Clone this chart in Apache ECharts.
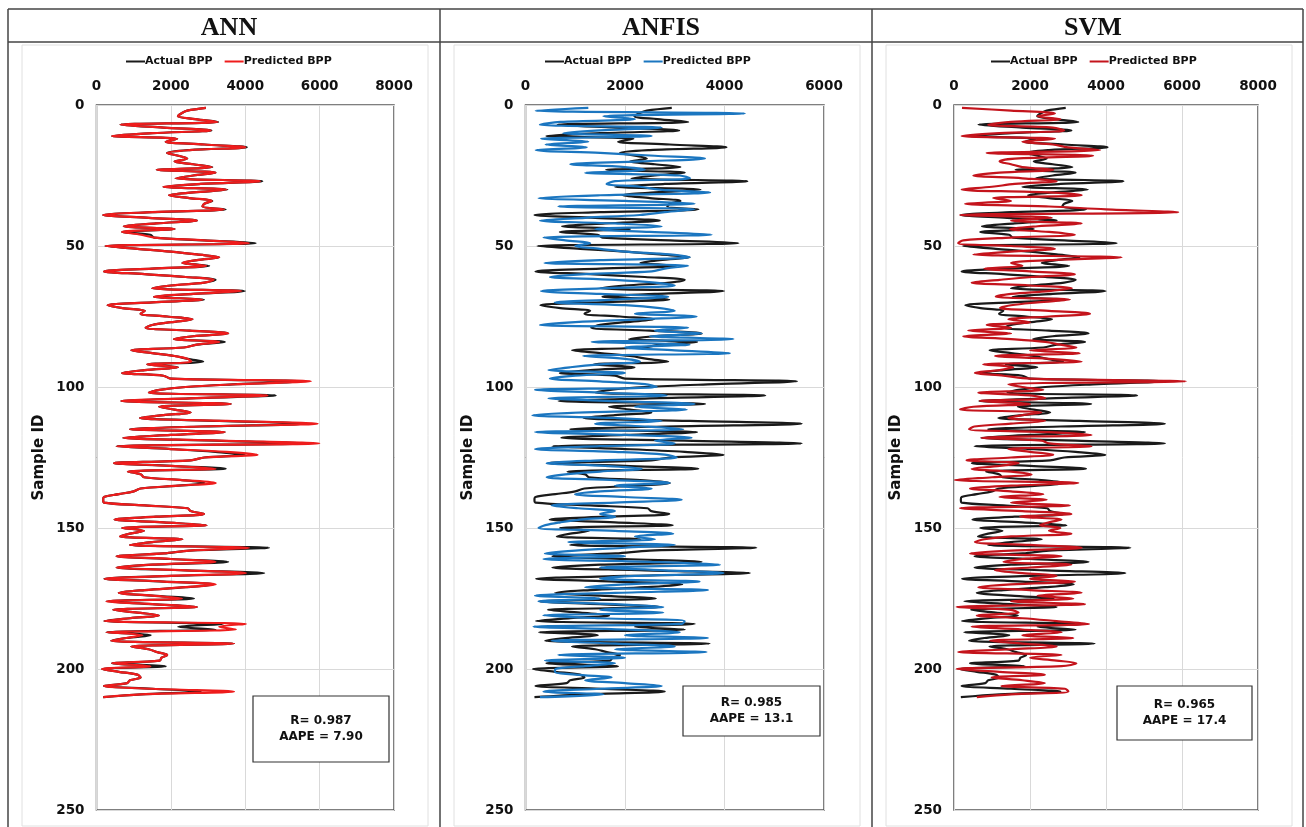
<!DOCTYPE html>
<html>
<head>
<meta charset="utf-8">
<script src="https://cdn.jsdelivr.net/npm/echarts@6/dist/echarts.min.js"></script>
<style>
  html, body { margin: 0; padding: 0; background: #fff; }
  #chart { width: 1306px; height: 827px; }
</style>
</head>
<body>
<div id="chart"></div>
<script>
// 实测 BPP（样本 1..210）
var actualBPP = [
  2940,2440,2280,2190,2650,3270,646,1800,3090,1500,
  420,2170,1860,2900,4040,2500,1900,2200,2440,2100,
  2600,3115,1620,3200,2600,2130,4460,2800,1800,3520,
  2600,1950,2500,3115,2900,2850,3475,1500,180,1400,
  2700,1600,735,2100,690,1450,1550,2900,4280,240,
  1100,2000,2700,3300,2700,2310,3030,1500,200,1300,
  2400,3200,2900,2000,1500,3990,2600,1545,2890,1500,
  300,700,1300,1185,1900,2580,2000,1500,1320,2500,
  3540,2600,2080,3450,2700,2350,935,1500,2100,2450,
  2870,1365,2190,1300,690,1800,2000,5460,3800,2400,
  1700,1410,4820,2500,665,3610,1680,2100,2530,1800,
  1170,3300,5550,2800,900,3450,2000,720,3200,5550,
  540,2000,3200,3980,2900,2530,470,2000,3475,845,
  1200,1275,2300,2900,2200,1185,1000,600,200,180,
  200,1300,2450,2530,2890,1600,485,1800,2960,690,
  1275,900,630,2310,1500,900,4640,2500,1810,540,
  2000,3540,1500,540,2400,4510,2000,215,1800,3150,
  2400,1300,600,1500,2620,270,1500,2700,450,1100,
  1680,900,215,3400,2200,3200,270,1455,800,395,
  3700,935,1400,1635,1900,1750,1700,420,1860,150,
  600,1095,1185,900,825,200,1500,2800,1200,180
];

// ANN 预测
var annBPP = [
  2940,2440,2280,2190,2650,3250,646,1800,3070,1500,
  420,2170,1860,2900,4000,2500,1900,2200,2440,2100,
  2600,3100,1620,3200,2600,2130,4400,2800,1800,3500,
  2600,1950,2500,3100,2900,2850,3430,1500,180,1400,
  2700,1600,735,2100,690,1200,1550,2900,4100,240,
  1100,2000,2700,3300,2700,2310,2950,1500,200,1300,
  2400,3150,2900,2000,1500,3900,2600,1545,2850,1500,
  300,700,1300,1185,1900,2580,2000,1500,1320,2500,
  3540,2600,2080,3300,2700,2350,935,1500,2100,2450,
  2550,1365,2190,1300,690,1800,2000,5765,3800,2400,
  1700,1410,4600,2500,665,3610,1680,2100,2530,1800,
  1170,3500,5945,2800,900,3450,2000,720,3300,5990,
  540,2000,3500,4330,2900,2530,470,2000,3200,845,
  1200,1275,2300,3205,2200,1185,1000,600,200,180,
  200,1300,2450,2530,2890,1600,485,1800,2960,690,
  1275,900,630,2310,1500,900,4100,2500,1810,540,
  2000,3200,1500,540,2400,4020,2000,215,1800,3205,
  2400,1300,600,1500,2300,270,1500,2700,450,1100,
  1680,900,215,4015,3300,3745,270,1230,800,395,
  3700,935,1400,1635,1900,1750,1700,420,1450,150,
  600,1095,1185,900,825,200,1500,3700,1200,180
];

// ANFIS 预测
var anfisBPP = [
  1263,205,4410,1565,2200,700,290,2737,1500,760,
  2536,310,1263,405,1230,205,1500,2600,3608,2300,
  900,2000,2400,1200,3100,3306,1800,1630,2300,2700,
  3710,1500,260,2000,3400,660,3400,2800,2300,1200,
  290,1800,2737,1400,2500,3740,360,800,1300,1000,
  1500,2000,2900,3300,1500,380,3270,2800,2536,1200,
  490,1800,2600,3000,1500,310,1500,2870,1800,590,
  2000,2700,3000,2200,3440,2300,1000,290,3270,2600,
  3540,2500,4180,1330,3300,2000,3000,4110,1160,2000,
  2300,1500,900,460,2000,1000,490,1500,2400,2637,
  190,1500,2837,460,1800,3400,2200,3240,1200,137,
  1800,2737,1400,2400,3170,190,2000,3340,2600,3000,
  1500,190,1800,2800,3040,1500,425,1600,2335,1500,
  800,425,1800,2900,1800,2536,1500,995,2000,3140,
  1800,525,1060,1800,1500,1800,1100,700,400,260,
  1800,2970,2200,2600,860,3000,2000,1000,390,2000,
  360,2500,3910,1500,2800,3980,2200,1500,3500,2000,
  1200,3670,1800,190,1500,260,1800,2770,1500,2770,
  360,1500,3200,3140,160,2000,3100,2000,3670,525,
  1800,3000,1800,3640,660,2000,390,1800,1200,600,
  590,1000,1730,1200,2000,2737,1500,360,1570,290
];

// SVM 预测
var svmBPP = [
  210,1500,2657,2200,2800,1500,900,2600,2900,1200,
  200,2657,1800,2600,3000,3840,860,3660,1600,1200,
  1500,1800,2613,1200,510,1800,2700,1600,1000,200,
  2500,3360,1030,1500,290,2500,4000,5900,160,2570,
  1500,3360,2200,1470,2500,3180,1500,245,110,1500,
  2657,1500,510,4410,2500,1500,1800,800,2000,3180,
  2040,1200,465,2000,3100,2500,1500,1100,3050,2200,
  1500,1210,2500,3580,2500,1430,2000,860,1500,375,
  1500,245,1500,2400,2800,3220,2000,3310,1080,2500,
  3360,770,1560,1200,550,1300,2000,6100,1430,1800,
  2350,640,2000,2400,680,2000,510,160,2300,1800,
  1430,2400,1500,535,395,2500,3620,725,2300,2500,
  3620,1430,2000,2613,1500,330,1700,1200,465,1500,
  2040,1000,25,3270,1500,420,1500,2350,1200,2440,
  1500,3050,160,1800,3090,1740,2830,2500,2260,2800,
  2500,3090,1500,800,550,2000,3360,1500,420,2830,
  1800,1300,3090,2000,1080,1800,2700,2000,3180,1500,
  640,2000,3360,2200,3140,1500,3450,70,1500,1700,
  600,1800,2700,3550,465,1800,2830,1800,3140,950,
  1800,2700,1500,110,2830,2000,2700,3220,2830,70,
  1200,2390,990,1800,2390,1250,2920,3010,1500,600
];

var panels = [
  { title: 'ANN',   pred: annBPP,   xmax: 8000, color: '#ee1c1c', r: 'R= 0.987', aape: 'AAPE = 7.90',
    left: 96.5, width: 297.5, cx: 224, legLeft: 121, box: [253, 696, 136, 66] },
  { title: 'ANFIS', pred: anfisBPP, xmax: 6000, color: '#1b76c0', r: 'R= 0.985', aape: 'AAPE = 13.1',
    left: 525.5, width: 298.5, cx: 656, legLeft: 540, box: [683, 686, 137, 50] },
  { title: 'SVM',   pred: svmBPP,   xmax: 8000, color: '#c4141c', r: 'R= 0.965', aape: 'AAPE = 17.4',
    left: 954, width: 304, cx: 1088, legLeft: 986, box: [1117, 686, 135, 54] }
];

function toPairs(arr) {
  var out = [];
  for (var i = 0; i < arr.length; i++) out.push([arr[i], i + 1]);
  return out;
}

var FONT = 'DejaVu Sans';
var labelFont = { fontFamily: FONT, fontWeight: 'bold', fontSize: 13.5, color: '#111',
  formatter: function (v) { return String(v); } };

var option = {
  backgroundColor: '#fff',
  animation: false,
  title: [], legend: [], grid: [], xAxis: [], yAxis: [], series: [],
  graphic: []
};

panels.forEach(function (p, k) {
  option.title.push({
    text: p.title, left: p.cx, top: 10, textAlign: 'center',
    textStyle: { fontFamily: 'Liberation Serif', fontWeight: 'bold', fontSize: 26, color: '#111' }
  });
  option.legend.push({
    data: ['Actual BPP|' + k, 'Predicted BPP|' + k],
    left: p.legLeft, top: 51,
    icon: 'rect', itemWidth: 19, itemHeight: 2, itemGap: 12,
    formatter: function (n) { return n.split('|')[0]; },
    textStyle: { fontFamily: FONT, fontWeight: 'bold', fontSize: 11, color: '#111', padding: [0, 0, 0, -5] },
    selectedMode: false
  });
  option.grid.push({
    left: p.left, width: p.width, top: 105, height: 705,
    show: true, borderColor: '#555', borderWidth: 1.5, backgroundColor: '#fff'
  });
  option.xAxis.push({
    gridIndex: k, type: 'value', position: 'top', min: 0, max: p.xmax, interval: 2000,
    axisLine: { show: false }, axisTick: { show: false },
    axisLabel: Object.assign({ margin: 12 }, labelFont),
    splitLine: { lineStyle: { color: '#d9d9d9', width: 1 } }
  });
  option.yAxis.push({
    gridIndex: k, type: 'value', inverse: true, min: 0, max: 250, interval: 50,
    axisLine: { show: false }, axisTick: { show: false },
    axisLabel: Object.assign({ margin: 12 }, labelFont),
    splitLine: { lineStyle: { color: '#d9d9d9', width: 1 } },
    name: 'Sample ID', nameLocation: 'middle', nameGap: 50, nameRotate: 90,
    nameTextStyle: { fontFamily: FONT, fontWeight: 'bold', fontSize: 15, color: '#111' }
  });
  option.series.push({
    name: 'Actual BPP|' + k, type: 'line', xAxisIndex: k, yAxisIndex: k,
    data: toPairs(actualBPP), symbol: 'none', smooth: 0.35,
    lineStyle: { color: '#1a1a1a', width: 2.2 }, itemStyle: { color: '#1a1a1a' }
  });
  option.series.push({
    name: 'Predicted BPP|' + k, type: 'line', xAxisIndex: k, yAxisIndex: k,
    data: toPairs(p.pred), symbol: 'none', smooth: 0.35,
    lineStyle: { color: p.color, width: 2.2 }, itemStyle: { color: p.color }
  });
  // R / AAPE 框
  var bx = p.box;
  option.graphic.push(
    { type: 'rect', z: 100, silent: true,
      shape: { x: bx[0], y: bx[1], width: bx[2], height: bx[3] },
      style: { fill: '#fff', stroke: '#333', lineWidth: 1.2 } },
    { type: 'text', z: 101, silent: true, x: bx[0] + bx[2] / 2, y: bx[1] + bx[3] / 2 - 8,
      style: { text: p.r, align: 'center', verticalAlign: 'middle',
        fontFamily: FONT, fontWeight: 'bold', fontSize: 12, fill: '#111' } },
    { type: 'text', z: 101, silent: true, x: bx[0] + bx[2] / 2, y: bx[1] + bx[3] / 2 + 8,
      style: { text: p.aape, align: 'center', verticalAlign: 'middle',
        fontFamily: FONT, fontWeight: 'bold', fontSize: 12, fill: '#111' } }
  );
  // 图表区浅色边框
  option.graphic.push({
    type: 'rect', z: -10, silent: true,
    shape: { x: 22 + k * 432, y: 45, width: 406, height: 781 },
    style: { fill: 'none', stroke: '#e0e0e0', lineWidth: 1 }
  });
});

// 外框表格线
var frame = [
  [8, 9, 1303, 9], [8, 42, 1303, 42],
  [8, 9, 8, 827], [440, 9, 440, 827], [872, 9, 872, 827], [1303, 9, 1303, 827]
];
frame.forEach(function (l) {
  option.graphic.push({
    type: 'line', silent: true, z: 50,
    shape: { x1: l[0], y1: l[1], x2: l[2], y2: l[3] },
    style: { stroke: '#444', lineWidth: 1.5 }
  });
});

var chart = echarts.init(document.getElementById('chart'));
chart.setOption(option);
</script>
</body>
</html>
